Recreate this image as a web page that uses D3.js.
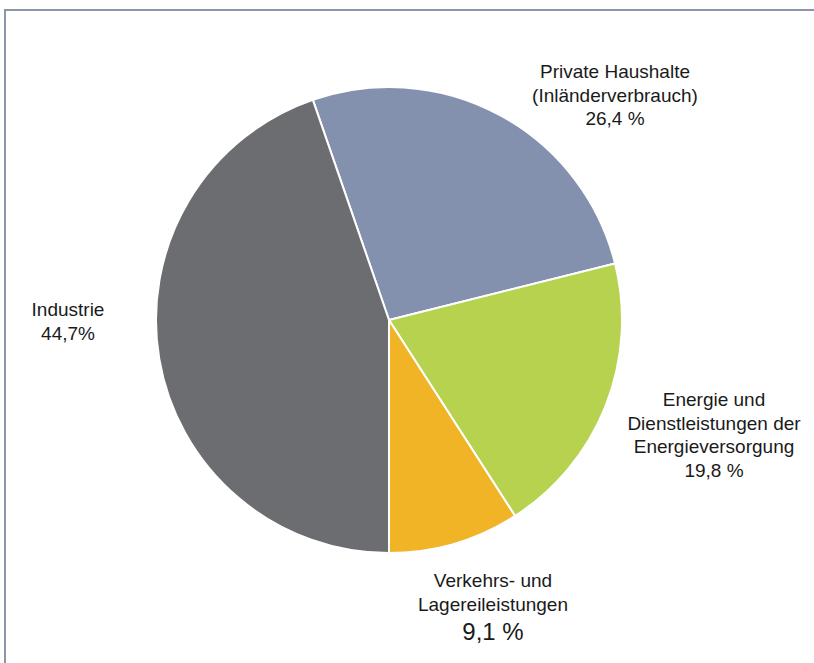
<!DOCTYPE html>
<html>
<head>
<meta charset="utf-8">
<script src="https://cdn.jsdelivr.net/npm/d3@7"></script>
<style>
  html, body { margin: 0; padding: 0; background: #fff; }
  svg { display: block; }
</style>
</head>
<body>
<svg id="chart" width="814" height="663"></svg>
<script>
// Endenergieverbrauch nach Sektoren (Anteile in %)
const categories = [
  "Private Haushalte",
  "Energie und Dienstleistungen der Energieversorgung",
  "Verkehrs- und Lagereileistungen",
  "Industrie"
];
const shares = [26.4, 19.8, 9.1, 44.7];
const shareLabels = ["26,4 %", "19,8 %", "9,1 %", "44,7%"];
const labelLines = [
  ["Private Haushalte", "(Inländerverbrauch)"],
  ["Energie und", "Dienstleistungen der", "Energieversorgung"],
  ["Verkehrs- und", "Lagereileistungen"],
  ["Industrie"]
];
const colors = ["#8491ae", "#b6d24f", "#f1b426", "#6c6d71"];

const svg = d3.select("#chart");
const W = 814, H = 663;

// frame
svg.append("path")
  .attr("d", `M5,${H} L5,10 L${W},10`)
  .attr("fill", "none")
  .attr("stroke", "#8c96a9")
  .attr("stroke-width", 2);

const cx = 389, cy = 320, r = 233;

const data = categories.map((c, i) => ({
  name: c, value: shares[i], label: shareLabels[i], lines: labelLines[i], color: colors[i]
}));

// the boundary between transport and industry points straight down
const total = d3.sum(shares);
const before = d3.sum(shares.slice(0, 3));
const start = Math.PI - 2 * Math.PI * before / total;

const pie = d3.pie().sort(null).value(d => d.value)
  .startAngle(start).endAngle(start + 2 * Math.PI);
const arc = d3.arc().innerRadius(0).outerRadius(r);

const g = svg.append("g").attr("transform", `translate(${cx},${cy})`);
g.selectAll("path.slice")
  .data(pie(data))
  .join("path")
  .attr("class", "slice")
  .attr("d", arc)
  .attr("fill", d => d.data.color)
  .attr("stroke", "#ffffff")
  .attr("stroke-width", 2)
  .attr("stroke-linejoin", "round");

// label placement (absolute anchor of the first baseline)
const labelPos = [
  { x: 615, y: 78, lh: 23.5 },
  { x: 714, y: 406, lh: 23.5 },
  { x: 493, y: 587, lh: 23.5 },
  { x: 68, y: 316, lh: 23.5 }
];

const font = "Liberation Sans, Arial, Helvetica, sans-serif";
data.forEach((d, i) => {
  const p = labelPos[i];
  const t = svg.append("text")
    .attr("x", p.x).attr("y", p.y)
    .attr("text-anchor", "middle")
    .attr("font-family", font)
    .attr("font-size", 19)
    .attr("fill", "#1a1a1a");
  d.lines.forEach((ln, k) => {
    t.append("tspan").attr("x", p.x).attr("dy", k === 0 ? 0 : p.lh).text(ln);
  });
  const big = i === 2;
  t.append("tspan")
    .attr("x", p.x)
    .attr("dy", big ? 29.5 : p.lh)
    .attr("font-size", big ? 24 : 19)
    .text(d.label);
});
</script>
</body>
</html>
